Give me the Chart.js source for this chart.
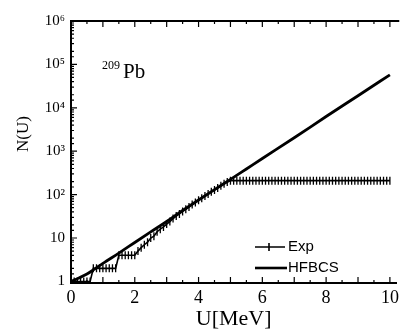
<!DOCTYPE html>
<html lang="en">
<head>
    <meta charset="UTF-8">
    <title>N(U) 209Pb</title>
    <script src="https://cdn.jsdelivr.net/npm/chart.js@4/dist/chart.umd.min.js"></script>
    <style>
        html, body { margin: 0; padding: 0; background: #fff; }
        #wrap { width: 403px; height: 333px; }
    </style>
</head>
<body>
<div id="wrap"><canvas id="grafico"></canvas></div>

<script>
// HFBCS calculation: U [MeV] and N(U)
const hfU = [0, 0.25, 0.5, 0.75, 1, 1.5, 2, 2.5, 3, 3.5, 4, 4.5, 5, 5.5, 6, 7, 8, 9, 10];
const hfN = [1.0, 1.2, 1.48, 1.95, 2.6, 4.5, 7.9, 13.8, 24, 43, 75, 130, 224, 390, 680, 2040, 6300, 19000, 57500];

// experimental counting, one point each 0.1 MeV
const expU = [
  0.0, 0.1, 0.2, 0.3, 0.4, 0.5, 0.6, 0.7, 0.8, 0.9,
  1.0, 1.1, 1.2, 1.3, 1.4, 1.5, 1.6, 1.7, 1.8, 1.9,
  2.0, 2.1, 2.2, 2.3, 2.4, 2.5, 2.6, 2.7, 2.8, 2.9,
  3.0, 3.1, 3.2, 3.3, 3.4, 3.5, 3.6, 3.7, 3.8, 3.9,
  4.0, 4.1, 4.2, 4.3, 4.4, 4.5, 4.6, 4.7, 4.8, 4.9,
  5.0, 5.1, 5.2, 5.3, 5.4, 5.5, 5.6, 5.7, 5.8, 5.9,
  6.0, 6.1, 6.2, 6.3, 6.4, 6.5, 6.6, 6.7, 6.8, 6.9,
  7.0, 7.1, 7.2, 7.3, 7.4, 7.5, 7.6, 7.7, 7.8, 7.9,
  8.0, 8.1, 8.2, 8.3, 8.4, 8.5, 8.6, 8.7, 8.8, 8.9,
  9.0, 9.1, 9.2, 9.3, 9.4, 9.5, 9.6, 9.7, 9.8, 9.9,
  10.0
];
const expN = [
  1, 1, 1, 1, 1, 1, 1, 2, 2, 2,
  2, 2, 2, 2, 2, 4, 4, 4, 4, 4,
  4, 5, 6, 7, 8, 10, 11, 14, 16, 18,
  21, 24, 28, 32, 36, 41, 46, 52, 59, 66,
  74, 83, 93, 104, 116, 128, 143, 160, 178, 196,
  208, 210, 210, 210, 210, 210, 210, 210, 210, 210,
  210, 210, 210, 210, 210, 210, 210, 210, 210, 210,
  210, 210, 210, 210, 210, 210, 210, 210, 210, 210,
  210, 210, 210, 210, 210, 210, 210, 210, 210, 210,
  210, 210, 210, 210, 210, 210, 210, 210, 210, 210,
  210
];

const xTicksLabeled = [0, 2, 4, 6, 8, 10];
const yTickLabels = { 1: '1', 10: '10', 100: '10\u00B2', 1000: '10\u00B3', 10000: '10\u2074', 100000: '10\u2075', 1000000: '10\u2076' };

const serif = "'Liberation Serif', 'DejaVu Serif', serif";
const narrow = "'Liberation Sans Narrow', 'Liberation Sans', sans-serif";

function puntos(xs, ys) {
  var out = [];
  for (var i = 0; i < xs.length; i++) out.push({ x: xs[i], y: ys[i] });
  return out;
}

// inward ticks, top frame, legend and labels drawn on the canvas
const extras = {
  id: 'extras',
  afterDraw(chart) {
    const ctx = chart.ctx;
    const a = chart.chartArea;
    const xs = chart.scales.x, ys = chart.scales.y;
    ctx.save();
    ctx.strokeStyle = '#000';
    ctx.lineWidth = 1.2;
    ctx.beginPath();
    xs.ticks.forEach(function (t) {
      if (Math.abs(t.value * 2 - Math.round(t.value * 2)) > 1e-6) return;
      const px = xs.getPixelForValue(t.value);
      const len = Number.isInteger(t.value) ? 6 : 3;
      ctx.moveTo(px, a.bottom); ctx.lineTo(px, a.bottom - len);
      ctx.moveTo(px, a.top); ctx.lineTo(px, a.top + len);
    });
    ys.ticks.forEach(function (t) {
      const py = ys.getPixelForValue(t.value);
      const lg = Math.log10(t.value);
      const len = Math.abs(lg - Math.round(lg)) < 1e-6 ? 6 : 3;
      ctx.moveTo(a.left, py); ctx.lineTo(a.left + len, py);
    });
    ctx.stroke();

    // top frame
    ctx.lineWidth = 2;
    ctx.beginPath();
    ctx.moveTo(a.left, a.top); ctx.lineTo(a.right + 3, a.top);
    ctx.stroke();

    // legend
    const ds = chart.data.datasets;
    ctx.font = '15px ' + narrow;
    ctx.fillStyle = '#000';
    ctx.textBaseline = 'middle';
    ctx.lineWidth = 1.6;
    ctx.beginPath();
    ctx.moveTo(255, 247); ctx.lineTo(285, 247);
    ctx.moveTo(269, 243); ctx.lineTo(269, 251);
    ctx.stroke();
    ctx.fillText(ds[0].label, 288, 247);
    ctx.lineWidth = 2.6;
    ctx.beginPath();
    ctx.moveTo(255, 268); ctx.lineTo(287, 268);
    ctx.stroke();
    ctx.fillText(ds[1].label, 288, 268);

    // nucleus label
    ctx.textBaseline = 'alphabetic';
    ctx.font = '12px ' + serif;
    ctx.fillText('209', 102, 69);
    ctx.font = '21px ' + serif;
    ctx.fillText('Pb', 123, 78);

    // y title
    ctx.translate(28, 134);
    ctx.rotate(-Math.PI / 2);
    ctx.textAlign = 'center';
    ctx.font = '17px ' + serif;
    ctx.fillText('N(U)', 0, 0);
    ctx.restore();
  }
};

const ctx = document.getElementById('grafico');
new Chart(ctx, {
  type: 'line',
  data: {
    datasets: [{
      label: 'Exp',
      data: puntos(expU, expN),
      borderColor: '#000',
      borderWidth: 1.6,
      pointStyle: 'line',
      rotation: 90,
      pointRadius: 4,
      pointBorderWidth: 1.3,
      pointBorderColor: '#000',
      pointBackgroundColor: '#000',
      tension: 0
    }, {
      label: 'HFBCS',
      data: puntos(hfU, hfN),
      borderColor: '#000',
      borderWidth: 2.8,
      pointRadius: 0,
      cubicInterpolationMode: 'monotone'
    }]
  },
  options: {
    responsive: true,
    maintainAspectRatio: false,
    animation: false,
    layout: { padding: { top: 21, right: 3, left: 0, bottom: 0 } },
    plugins: { legend: { display: false }, tooltip: { enabled: false } },
    scales: {
      x: {
        type: 'linear',
        min: 0,
        max: 10.2,
        afterFit: function (s) { s.height = 50; },
        grid: { display: true, drawOnChartArea: false, drawTicks: false },
        border: { display: true, color: '#000', width: 2 },
        ticks: {
          stepSize: 0.5,
          includeBounds: false,
          padding: 4,
          autoSkip: false,
          maxRotation: 0,
          color: '#000',
          font: { family: serif, size: 18 },
          callback: function (v) { return xTicksLabeled.indexOf(v) >= 0 ? String(v) : ''; }
        },
        title: {
          display: true,
          text: 'U[MeV]',
          color: '#000',
          font: { family: serif, size: 22 },
          padding: { top: 0, bottom: 1 }
        }
      },
      y: {
        type: 'logarithmic',
        min: 0.92,
        max: 1000000,
        afterFit: function (s) { s.width = 71; },
        grid: { display: true, drawOnChartArea: false, drawTicks: false },
        border: { display: true, color: '#000', width: 2 },
        ticks: {
          padding: 6,
          autoSkip: false,
          color: '#000',
          font: { family: serif, size: 15 },
          callback: function (v) { return yTickLabels[v] || ''; }
        }
      }
    }
  },
  plugins: [extras]
});
</script>
</body>
</html>
